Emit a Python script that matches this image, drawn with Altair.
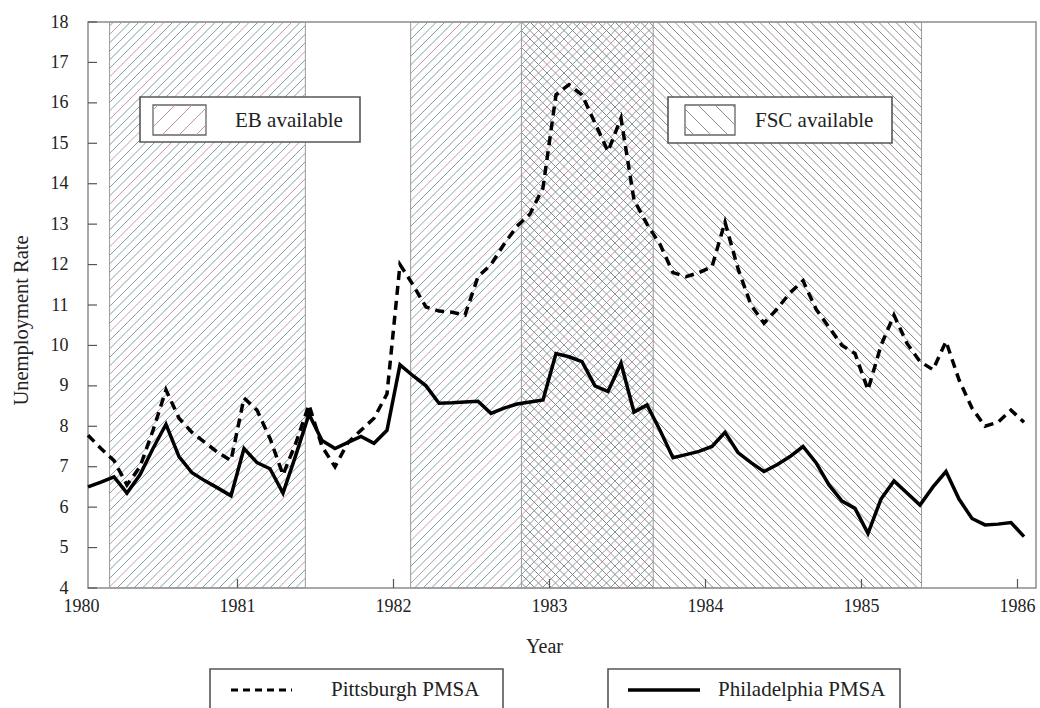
import altair as alt
import pandas as pd

# Monthly unemployment rate (%), January 1980 through January 1986
pittsburgh = [
    7.78, 7.45, 7.15, 6.55, 7.0, 7.9, 8.9, 8.2, 7.85, 7.6, 7.35, 7.15,
    8.7, 8.4, 7.7, 6.8, 7.6, 8.53, 7.5, 7.0, 7.6, 7.9, 8.2, 8.8,
    12.0, 11.5, 10.95, 10.85, 10.82, 10.75, 11.7, 12.0, 12.5, 12.95, 13.25, 13.9,
    16.2, 16.45, 16.2, 15.5, 14.8, 15.62, 13.6, 13.0, 12.5, 11.8, 11.7, 11.8,
    11.95, 13.05, 11.9, 11.0, 10.55, 10.9, 11.3, 11.6, 10.9, 10.45, 10.0, 9.8,
    8.9, 10.0, 10.75, 10.05, 9.6, 9.4, 10.1, 9.15, 8.45, 8.0, 8.1, 8.4,
    8.1,
]
philadelphia = [
    6.5, 6.62, 6.75, 6.35, 6.8, 7.45, 8.05, 7.25, 6.85, 6.65, 6.47, 6.28,
    7.45, 7.1, 6.95, 6.35, 7.3, 8.3, 7.65, 7.45, 7.6, 7.75, 7.58, 7.9,
    9.52, 9.25, 9.0, 8.57, 8.58, 8.6, 8.62, 8.32, 8.45, 8.55, 8.6, 8.65,
    9.8, 9.72, 9.6, 9.0, 8.86, 9.56, 8.35, 8.53, 7.9, 7.22, 7.3, 7.38,
    7.5, 7.85, 7.35, 7.1, 6.88, 7.05, 7.25, 7.5, 7.1, 6.55, 6.15, 5.97,
    5.35, 6.2, 6.65, 6.35, 6.05, 6.5, 6.88, 6.2, 5.72, 5.56, 5.58, 5.62,
    5.27,
]
year_labels = [1980, 1981, 1982, 1983, 1984, 1985, 1986]
year_ticks = [1981, 1982, 1983, 1984, 1985, 1986]
rate_ticks = list(range(4, 19))

# Benefit programme periods, in fractional years
eb_periods = [(1980.18, 1981.435), (1982.11, 1983.665)]
fsc_periods = [(1982.82, 1985.385)]

FONT = "Liberation Serif"
W, H = 948, 566
X_DOM = (1980.0417, 1986.1186)
Y_DOM = (4, 18)
KX = W / (X_DOM[1] - X_DOM[0])
KY = H / (Y_DOM[1] - Y_DOM[0])


def t_of(px):
    return X_DOM[0] + px / KX


def v_of(py):
    return Y_DOM[1] - py / KY


def px_of(t):
    return (t - X_DOM[0]) * KX


def hatch(x0, x1, y0, y1, direction, step, colors):
    """45-degree hatch lines clipped to a box given in view pixels (y down)."""
    rows = []
    if direction == "/":
        c_lo, c_hi = x0 + y0, x1 + y1
    else:
        c_lo, c_hi = x0 - y1, x1 - y0
    k = int(c_lo // step)
    while k * step <= c_hi:
        c = k * step
        if direction == "/":
            lo, hi = max(x0, c - y1), min(x1, c - y0)
            f = lambda px: c - px
        else:
            lo, hi = max(x0, y0 + c), min(x1, y1 + c)
            f = lambda px: px - c
        if hi > lo:
            rows.append({
                "t": t_of(lo), "v": v_of(f(lo)),
                "t2": t_of(hi), "v2": v_of(f(hi)),
                "col": colors[k % len(colors)],
            })
        k += 1
    return rows


EB_COLORS = ["#7f9ba3", "#8aa1a7", "#7f9ba3", "#8aa1a7", "#c49aab"]
FSC_COLORS = ["#858585", "#8c8c8c", "#858585", "#8c8c8c", "#a8929c"]

hatch_rows = []
for a, b in eb_periods:
    hatch_rows += hatch(px_of(a), px_of(b), 0, H, "/", 8.5, EB_COLORS)
for a, b in fsc_periods:
    hatch_rows += hatch(px_of(a), px_of(b), 0, H, "\\", 8.5, FSC_COLORS)
hatch_df = pd.DataFrame(hatch_rows)

# small swatches inside the two period keys
swatch_rows = hatch(65, 118, 83, 113, "/", 17, ["#c38fa6"])
swatch_rows += hatch(597, 647, 83, 113, "\\", 17, ["#8d8d8d"])
swatch_df = pd.DataFrame(swatch_rows)

regions = pd.DataFrame(
    [{"t": a, "t2": b} for a, b in eb_periods]
    + [{"t": a, "t2": b} for a, b in fsc_periods]
)
regions["v"] = Y_DOM[0]
regions["v2"] = Y_DOM[1]

n = len(pittsburgh)
months = [1980 + (i + 0.5) / 12 for i in range(n)]
pit_df = pd.DataFrame({"t": months, "v": pittsburgh})
phl_df = pd.DataFrame({"t": months, "v": philadelphia})

xs = alt.Scale(domain=list(X_DOM), nice=False, zero=False)
ys = alt.Scale(domain=list(Y_DOM), nice=False, zero=False)
x_axis = alt.Axis(
    values=year_ticks, labels=False, title="Year", ticks=False, domain=False,
    grid=False, titlePadding=48, titleX=456, titleFontSize=20,
)
y_axis = alt.Axis(
    values=rate_ticks, format="d", title="Unemployment Rate", ticks=False,
    domain=False, grid=False, labelOverlap=False, labelPadding=20,
    titlePadding=19, titleY=298, titleFontSize=20.5,
)
X = alt.X("t:Q", scale=xs, axis=x_axis)
Y = alt.Y("v:Q", scale=ys, axis=y_axis)

hatch_layer = alt.Chart(hatch_df).mark_rule(strokeWidth=1).encode(
    x=X, y=Y, x2="t2:Q", y2="v2:Q", color=alt.Color("col:N", scale=None)
)
region_layer = alt.Chart(regions).mark_rect(
    fill=None, stroke="#9a9a9a", strokeWidth=1
).encode(x=X, y=Y, x2="t2:Q", y2="v2:Q")

ytick_df = pd.DataFrame({"v": rate_ticks})
ytick_layer = alt.Chart(ytick_df).mark_rule(color="#555", strokeWidth=1.2).encode(
    y=Y, x=alt.value(0), x2=alt.value(9)
)
xtick_df = pd.DataFrame({"t": year_ticks})
xtick_layer = alt.Chart(xtick_df).mark_rule(color="#555", strokeWidth=1.2).encode(
    x=X, y=alt.value(H), y2=alt.value(H - 9)
)
year_df = pd.DataFrame({"t": year_labels, "lab": [str(y) for y in year_labels]})
year_layer = alt.Chart(year_df).mark_text(
    font=FONT, fontSize=18, color="#222", baseline="middle", align="center"
).encode(x=X, y=alt.value(H + 19), text="lab:N")

pit_line = alt.Chart(pit_df).mark_line(
    color="black", strokeWidth=3.5, strokeDash=[9, 6]
).encode(x=X, y=Y)
phl_line = alt.Chart(phl_df).mark_line(color="black", strokeWidth=3.5).encode(x=X, y=Y)

one = pd.DataFrame({"k": [0]})


def box(x0, x1, y0, y1, stroke="#555", width=1.6):
    return alt.Chart(one).mark_rect(fill="white", stroke=stroke, strokeWidth=width).encode(
        x=alt.value(x0), x2=alt.value(x1), y=alt.value(y0), y2=alt.value(y1)
    )


def label(x, y, txt, size=21):
    return alt.Chart(one).mark_text(
        align="left", baseline="middle", font=FONT, fontSize=size, color="#222"
    ).encode(x=alt.value(x), y=alt.value(y), text=alt.value(txt))


key_layers = [
    box(52, 272, 75, 120),
    box(65, 118, 83, 113, stroke="#666", width=1.3),
    label(147, 99, "EB available"),
    box(580, 804, 75, 121),
    box(597, 647, 83, 113, stroke="#666", width=1.3),
    label(667, 99, "FSC available"),
]
swatch_layer = alt.Chart(swatch_df).mark_rule(strokeWidth=1).encode(
    x=X, y=Y, x2="t2:Q", y2="v2:Q", color=alt.Color("col:N", scale=None)
)

series_key = [
    box(122, 415, 647, 720),
    alt.Chart(one).mark_rule(color="black", strokeWidth=3, strokeDash=[7, 5]).encode(
        x=alt.value(143), x2=alt.value(204), y=alt.value(668)
    ),
    label(243, 668, "Pittsburgh PMSA"),
    box(520, 812, 647, 720),
    alt.Chart(one).mark_rule(color="black", strokeWidth=3.5).encode(
        x=alt.value(540), x2=alt.value(612), y=alt.value(668)
    ),
    label(630, 668, "Philadelphia PMSA"),
]

chart = alt.layer(
    hatch_layer, region_layer, ytick_layer, xtick_layer, year_layer,
    pit_line, phl_line, *key_layers, swatch_layer, *series_key,
).properties(
    width=W, height=H,
    autosize=alt.AutoSizeParams(type="none"),
    padding={"left": 88, "top": 22, "right": 4, "bottom": 120},
).configure_view(
    stroke="#8c8c8c", strokeWidth=1.5
).configure_axis(
    labelFont=FONT, titleFont=FONT, labelFontSize=18, titleFontSize=19,
    titleFontWeight="normal", labelColor="#222", titleColor="#222",
)

chart.save("out.html", embed_options={"renderer": "svg", "actions": False})
